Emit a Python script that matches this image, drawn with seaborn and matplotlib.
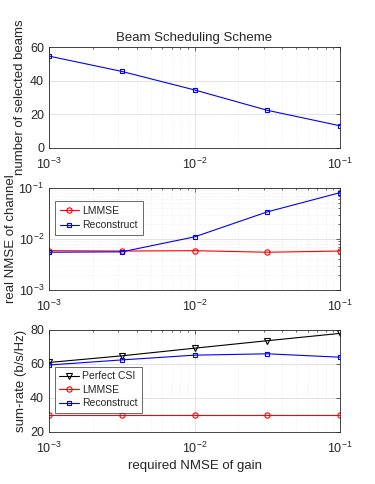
import numpy as np
import pandas as pd
import matplotlib
matplotlib.use("Agg")
import matplotlib.pyplot as plt
import seaborn as sns
from matplotlib.ticker import LogLocator, LogFormatterMathtext, NullFormatter

sns.set_theme(style="white")
plt.rcParams['font.family'] = ['Liberation Sans', 'DejaVu Sans']
plt.rcParams['mathtext.fontset'] = 'custom'
plt.rcParams['mathtext.rm'] = 'Liberation Sans'

x_gain = [1e-3, 10**-2.5, 1e-2, 10**-1.5, 1e-1]
beams = [54.6, 45.5, 34.5, 22.4, 13.2]
nmse_lmmse = [0.0059, 0.0058, 0.0059, 0.0055, 0.0058]
nmse_recon = [0.0055, 0.0056, 0.011, 0.034, 0.081]
rate_perfect = [60.9, 64.8, 69.3, 73.7, 78.0]
rate_lmmse = [29.8, 29.8, 29.8, 29.8, 29.8]
rate_recon = [59.4, 62.4, 65.2, 66.0, 64.0]

title = "Beam Scheduling Scheme"
xlabel = "required NMSE of gain"
ylabels = ["number of selected beams", "real NMSE of channel", "sum-rate (b/s/Hz)"]

W, H = 375, 484
fig = plt.figure(figsize=(W/100, H/100), dpi=100)

def ax_at(l, t, r, b):
    return fig.add_axes([l/W, 1-b/H, (r-l)/W, (b-t)/H])

ax1 = ax_at(49, 47, 340, 148)
ax2 = ax_at(49, 188, 340, 290)
ax3 = ax_at(49, 330, 340, 432)

FS = 9
LFS = 7.5
lw = 0.8
MS = {'s': 3.2, 'o': 3.8, 'v': 4.0}

def grids(ax):
    ax.grid(True, which='major', color='#dedede', linewidth=0.6)
    ax.grid(True, which='minor', color='#e8e8e8', linewidth=0.5, linestyle=':')
    ax.set_axisbelow(True)

def style(ax):
    ax.set_xscale('log')
    ax.set_xlim(1e-3, 1e-1)
    ax.xaxis.set_major_locator(LogLocator(base=10, numticks=10))
    ax.xaxis.set_major_formatter(LogFormatterMathtext())
    ax.xaxis.set_minor_locator(LogLocator(base=10, subs=np.arange(2, 10), numticks=20))
    ax.xaxis.set_minor_formatter(NullFormatter())
    grids(ax)
    for s in ax.spines.values():
        s.set_color('#262626')
        s.set_linewidth(0.6)
    ax.tick_params(axis='both', which='both', direction='in', labelsize=FS,
                   colors='#262626', top=True, right=True, length=3, width=0.5)
    ax.tick_params(which='minor', length=1.5)
    ax.tick_params(axis='x', which='major', pad=6)
    ax.set_facecolor('white')

def line(ax, xs, ys, col, mk, name=None):
    d = pd.DataFrame({'x': xs, 'y': ys})
    sns.lineplot(data=d, x='x', y='y', ax=ax, color=col, marker=mk, markersize=MS[mk],
                 markerfacecolor='none', markeredgecolor=col, markeredgewidth=0.8,
                 linewidth=lw, label=name)

line(ax1, x_gain, beams, 'blue', 's')
style(ax1)
ax1.set_ylim(0, 60)
ax1.set_yticks([0, 20, 40, 60])
ax1.set_title(title, fontsize=FS+0.5, color='#262626', pad=4)
ax1.set_xlabel('')
ax1.set_ylabel(ylabels[0], fontsize=FS+0.5, color='#262626')

line(ax2, x_gain, nmse_lmmse, 'red', 'o', 'LMMSE')
line(ax2, x_gain, nmse_recon, 'blue', 's', 'Reconstruct')
style(ax2)
ax2.set_yscale('log')
ax2.set_ylim(1e-3, 1e-1)
ax2.yaxis.set_major_locator(LogLocator(base=10, numticks=10))
ax2.yaxis.set_major_formatter(LogFormatterMathtext())
ax2.yaxis.set_minor_locator(LogLocator(base=10, subs=np.arange(2, 10), numticks=20))
ax2.yaxis.set_minor_formatter(NullFormatter())
grids(ax2)
ax2.tick_params(axis='both', which='both', direction='in', labelsize=FS,
                colors='#262626', top=True, right=True)
ax2.set_xlabel('')
ax2.set_ylabel(ylabels[1], fontsize=FS+0.5, color='#262626')
leg2 = ax2.legend(loc='upper left', bbox_to_anchor=(0.02, 0.873), fontsize=LFS,
                  frameon=True, fancybox=False, edgecolor='#262626', borderaxespad=0,
                  borderpad=0.45, labelspacing=0.45, handlelength=1.9, handletextpad=0.3)
leg2.get_frame().set_linewidth(0.6)

line(ax3, x_gain, rate_perfect, 'black', 'v', 'Perfect CSI')
line(ax3, x_gain, rate_lmmse, 'red', 'o', 'LMMSE')
line(ax3, x_gain, rate_recon, 'blue', 's', 'Reconstruct')
style(ax3)
ax3.set_ylim(20, 80)
ax3.set_yticks([20, 40, 60, 80])
ax3.set_xlabel(xlabel, fontsize=FS+0.5, color='#262626', labelpad=3)
ax3.set_ylabel(ylabels[2], fontsize=FS+0.5, color='#262626')
leg3 = ax3.legend(loc='upper left', bbox_to_anchor=(0.02, 0.637), fontsize=LFS,
                  frameon=True, fancybox=False, edgecolor='#262626', borderaxespad=0,
                  borderpad=0.4, labelspacing=0.35, handlelength=1.9, handletextpad=0.3)
leg3.get_frame().set_linewidth(0.6)

ax1.yaxis.set_label_coords(-0.079, 0.5)
ax2.yaxis.set_label_coords(-0.11, 0.5)
ax3.yaxis.set_label_coords(-0.076, 0.5)

fig.savefig('out.png', dpi=100, facecolor='white')
